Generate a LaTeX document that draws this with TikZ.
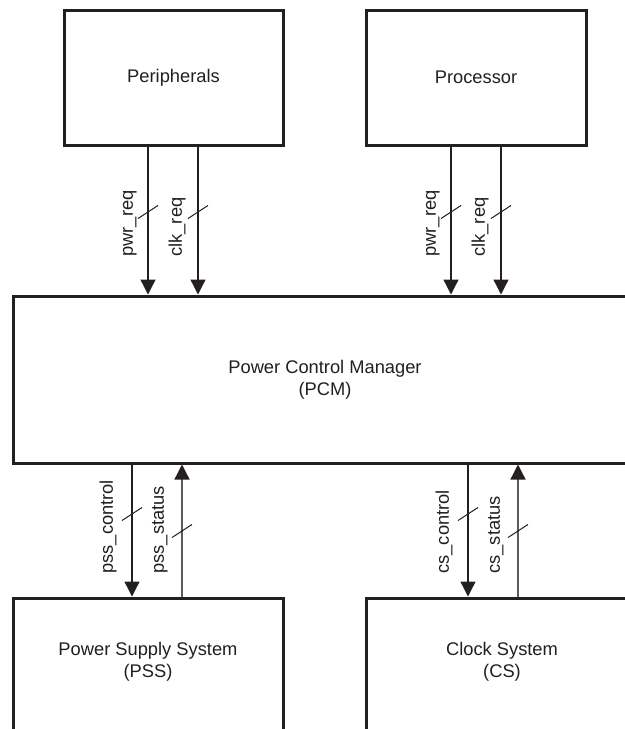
\documentclass[tikz,border=0pt]{standalone}
\usepackage{fontspec}
\setmainfont{Liberation Sans}
\usetikzlibrary{arrows.meta,calc}
\definecolor{ink}{HTML}{231F20}
\definecolor{stat}{HTML}{5A5A5A}
\begin{document}
\begin{tikzpicture}[x=0.5pt,y=-0.5pt,
  every node/.style={font=\fontsize{9.15}{10.9}\selectfont, text=ink},
  blk/.style={draw=ink, line width=1.5pt, inner sep=0pt, align=center},
  txt/.style={inner sep=0pt, align=center},
  sig/.style={draw=ink, line width=0.65pt, -{Triangle[length=7.5pt,width=7.5pt,color=ink]}},
  sigst/.style={draw=stat, line width=0.65pt, -{Triangle[length=7.5pt,width=7.5pt,color=ink]}},
  tick/.style={draw=ink, line width=0.5pt},
  lbl/.style={inner sep=0pt, rotate=90, anchor=south west}]
\clip (0,0) rectangle (625,729);
\fill[white] (0,0) rectangle (625,729);
% blocks
\node[blk, minimum width=109.5pt, minimum height=67.5pt] (per) at (173.5,77.5) {Peripherals};
\node[blk, minimum width=110pt, minimum height=67.5pt] (pro) at (476,77.5) {Processor};
\node[blk, minimum width=312pt, minimum height=83.5pt] (pcm) at (325,379.5) {Power Control Manager\\(PCM)};
\node[blk, minimum width=135pt, minimum height=85pt] (pss) at (148,683) {};
\node[blk, minimum width=136pt, minimum height=85pt] (cs) at (502,683) {};
\node[txt] (psst) at (148,662) {Power Supply System\\(PSS)};
\node[txt] (cst) at (502,662) {Clock System\\(CS)};
% x positions
\coordinate (x1) at (148,0);
\coordinate (x2) at (198,0);
\coordinate (x3) at (451,0);
\coordinate (x4) at (501,0);
\coordinate (x5) at (132,0);
\coordinate (x6) at (182,0);
\coordinate (x7) at (468,0);
\coordinate (x8) at (518,0);
% top connectors
\draw[sig] (x1 |- per.south) -- (x1 |- pcm.north);
\draw[sig] (x2 |- per.south) -- (x2 |- pcm.north);
\draw[sig] (x3 |- pro.south) -- (x3 |- pcm.north);
\draw[sig] (x4 |- pro.south) -- (x4 |- pcm.north);
% bottom connectors
\draw[sig] (x5 |- pcm.south) -- (x5 |- pss.north);
\draw[sigst] (x6 |- pss.north) -- (x6 |- pcm.south);
\draw[sig] (x7 |- pcm.south) -- (x7 |- cs.north);
\draw[sigst] (x8 |- cs.north) -- (x8 |- pcm.south);
% bus ticks
\foreach \c/\y in {x1/212,x2/212,x3/212,x4/212,x5/514,x6/531,x7/514,x8/531}
  \draw[tick] ($(\c |- 0,\y)+(-10,6.5)$) -- ++(20,-13);
% labels
\node[lbl] (l1) at (137,257) {pwr\_req};
\node[lbl] (l2) at (186,257) {clk\_req};
\node[lbl] (l3) at (440,257) {pwr\_req};
\node[lbl] (l4) at (489,257) {clk\_req};
\node[lbl] (l5) at (117,574) {pss\_control};
\node[lbl] (l6) at (168,574) {pss\_status};
\node[lbl] (l7) at (453,574) {cs\_control};
\node[lbl] (l8) at (504,574) {cs\_status};
\end{tikzpicture}
\end{document}
